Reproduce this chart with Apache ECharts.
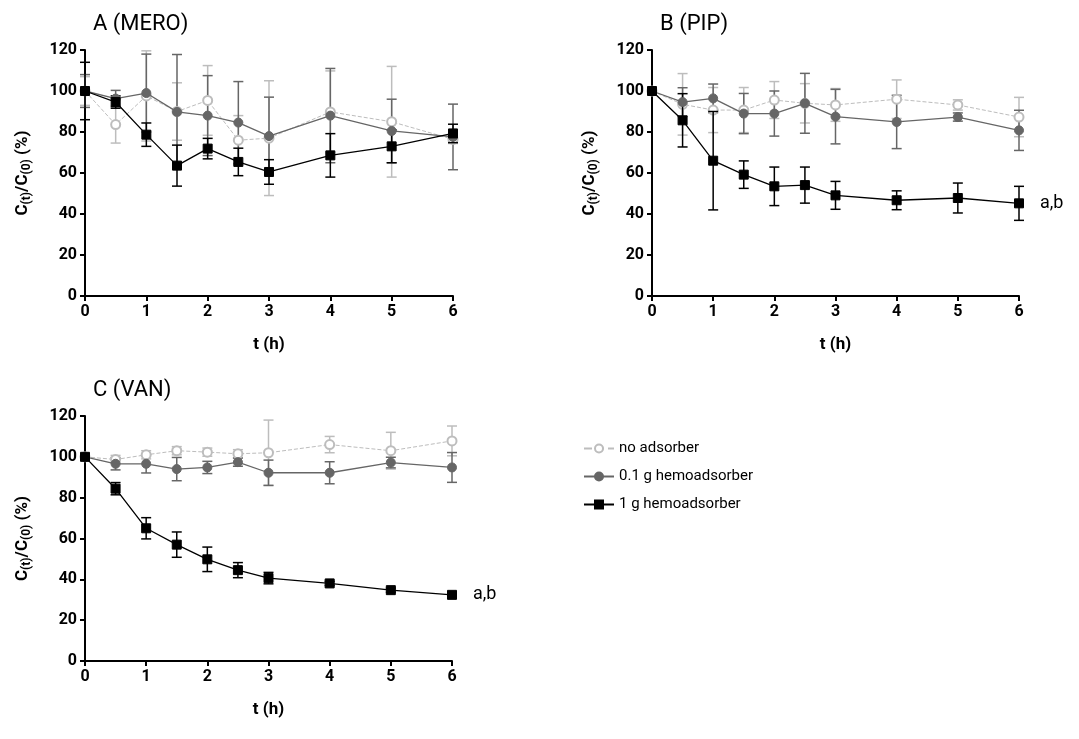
<!DOCTYPE html>
<html>
<head>
<meta charset="utf-8">
<script src="https://cdn.jsdelivr.net/npm/echarts@6/dist/echarts.min.js"></script>
<style>html,body{margin:0;padding:0;background:#fff}#main{width:1079px;height:739px}</style>
</head>
<body>
<div id="main"></div>
<script>
var times = [0, 0.5, 1, 1.5, 2, 2.5, 3, 4, 5, 6];
var seriesNames = ['no adsorber', '0.1 g hemoadsorber', '1 g hemoadsorber'];
var panelTitles = ['A (MERO)', 'B (PIP)', 'C (VAN)'];

// A (MERO)
var meroNone = [100, 83.6, 97.6, 90, 95.4, 76, 77, 89.8, 85, 76.4];
var meroNoneSd = [7, 9, 22, 14, 17, 12, 28, 20, 27, 2];
var meroLow = [100, 96.3, 99, 89.8, 88, 84.6, 78, 88, 80.5, 77.6];
var meroLowSd = [8, 4, 19, 28, 19.5, 20, 19, 23, 15.5, 16];
var meroHigh = [100, 94.6, 78.7, 63.6, 71.9, 65.4, 60.5, 68.6, 73, 79.3];
var meroHighSd = [14, 3, 5.7, 10, 5, 6.7, 6, 10.6, 8, 4.5];

// B (PIP)
var pipNone = [100, 93.5, 90.7, 90.7, 95.6, 94, 93.2, 96, 93.2, 87.3];
var pipNoneSd = [0, 15, 11, 11, 9, 9.6, 8, 9.4, 2.5, 9.6];
var pipLow = [100, 94.6, 96.4, 89, 89, 94, 87.5, 84.9, 87.3, 80.8];
var pipLowSd = [0, 7, 7, 9.8, 11, 14.6, 13.3, 13, 2, 9.8];
var pipHigh = [100, 85.7, 66, 59.2, 53.5, 54.1, 49.1, 46.7, 47.8, 45.2];
var pipHighSd = [0, 13, 24, 6.7, 9.4, 8.8, 6.8, 4.6, 7.3, 8.3];

// C (VAN)
var vanNone = [100, 98.7, 101, 103, 102.3, 101.5, 102, 106, 103, 107.8];
var vanNoneSd = [0, 2, 2, 2, 2, 2, 16, 4, 9, 7.3];
var vanLow = [100, 96.6, 96.6, 94, 94.8, 97.4, 92.2, 92.2, 97.2, 94.8];
var vanLowSd = [0, 3, 4.5, 5.7, 3, 2, 6.2, 5.4, 2.6, 7.3];
var vanHigh = [100, 84.4, 65, 57, 49.8, 44.5, 40.6, 38, 34.7, 32.4];
var vanHighSd = [0, 3, 5.2, 6.2, 6, 3.7, 2.8, 1, 1, 1];

var sigLabel = [null, 'a,b', 'a,b'];

var panels = [
	[meroNone, meroNoneSd, meroLow, meroLowSd, meroHigh, meroHighSd],
	[pipNone, pipNoneSd, pipLow, pipLowSd, pipHigh, pipHighSd],
	[vanNone, vanNoneSd, vanLow, vanLowSd, vanHigh, vanHighSd]
];

var styles = [
	{color: '#bdbdbd', symbol: 'emptyCircle', lineType: 'dashed', width: 1},
	{color: '#666666', symbol: 'circle', lineType: 'solid', width: 1.3},
	{color: '#000000', symbol: 'rect', lineType: 'solid', width: 1.3}
];

var chart = echarts.init(document.getElementById('main'));

var grids = [
	{left: 85, top: 50, width: 368, height: 246},
	{left: 652, top: 50, width: 367, height: 246},
	{left: 85, top: 416, width: 367, height: 245}
];

var axisCommon = {
	axisLine: {lineStyle: {color: '#000', width: 2}},
	axisTick: {lineStyle: {color: '#000', width: 2}, length: 5},
	axisLabel: {color: '#000', fontWeight: 'bold', fontSize: 16, fontFamily: 'Roboto'},
	splitLine: {show: false}
};

var xAxes = [], yAxes = [], series = [], titles = [];
for (var p = 0; p < 3; p++) {
	xAxes.push(Object.assign({
		gridIndex: p, type: 'value', min: 0, max: 6, interval: 1,
		name: 't (h)', nameLocation: 'middle', nameGap: 40,
		nameTextStyle: {fontWeight: 'bold', fontSize: 17, color: '#000', fontFamily: 'Roboto'}
	}, axisCommon));
	yAxes.push(Object.assign({
		gridIndex: p, type: 'value', min: 0, max: 120, interval: 20,
		name: '{b|C}{s|(t)}{b|/C}{s|(0)}{b| (%)}', nameLocation: 'middle', nameGap: 52, nameRotate: 90,
		nameTextStyle: {
			color: '#000',
			rich: {
				b: {fontWeight: 'bold', fontSize: 17, color: '#000', fontFamily: 'Roboto'},
				s: {fontWeight: 'bold', fontSize: 12, color: '#000', fontFamily: 'Roboto', padding: [9, 0, 0, 0]}
			}
		}
	}, axisCommon));
	titles.push({
		text: panelTitles[p], left: grids[p].left + 3, top: grids[p].top - 42,
		textStyle: {fontWeight: 'normal', fontSize: 22, color: '#000', fontFamily: 'Roboto'}
	});

	for (var s = 0; s < 3; s++) {
		var vals = panels[p][s * 2];
		var sd = panels[p][s * 2 + 1];
		var st = styles[s];
		var pts = [], bars = [];
		for (var i = 0; i < times.length; i++) {
			var item = {value: [times[i], vals[i]]};
			if (s == 2 && i == times.length - 1 && sigLabel[p]) {
				item.label = {show: true, position: 'right', distance: 16, formatter: sigLabel[p],
					fontSize: 18, color: '#000', fontFamily: 'Roboto'};
			}
			pts.push(item);
			if (sd[i] > 0) bars.push([times[i], vals[i] - sd[i], vals[i] + sd[i]]);
		}
		series.push({
			name: seriesNames[s], type: 'line', xAxisIndex: p, yAxisIndex: p,
			data: pts, symbol: st.symbol, symbolSize: s == 2 ? 9 : 9,
			itemStyle: {color: st.color, borderColor: st.color, borderWidth: 1},
			lineStyle: {color: st.color, type: st.lineType, width: st.width},
			z: 3 + s, animation: false
		});
		series.push({
			name: seriesNames[s], type: 'custom', xAxisIndex: p, yAxisIndex: p,
			data: bars, z: 2 + s, animation: false, silent: true,
			itemStyle: {color: st.color},
			renderItem: (function(col) {
				return function(params, api) {
					var lo = api.coord([api.value(0), api.value(1)]);
					var hi = api.coord([api.value(0), api.value(2)]);
					var w = 5;
					var ls = {stroke: col, lineWidth: 1.5};
					return {type: 'group', children: [
						{type: 'line', shape: {x1: lo[0], y1: lo[1], x2: hi[0], y2: hi[1]}, style: ls},
						{type: 'line', shape: {x1: lo[0] - w, y1: lo[1], x2: lo[0] + w, y2: lo[1]}, style: ls},
						{type: 'line', shape: {x1: hi[0] - w, y1: hi[1], x2: hi[0] + w, y2: hi[1]}, style: ls}
					]};
				};
			})(st.color)
		});
	}
}

var option = {
	backgroundColor: '#fff',
	animation: false,
	title: titles,
	grid: grids,
	xAxis: xAxes,
	yAxis: yAxes,
	legend: {
		data: seriesNames, orient: 'vertical', left: 578, top: 436, itemGap: 13,
		itemWidth: 30, itemHeight: 10,
		textStyle: {fontSize: 15, color: '#000', fontFamily: 'Roboto'}
	},
	series: series
};
chart.setOption(option);
</script>
</body>
</html>
